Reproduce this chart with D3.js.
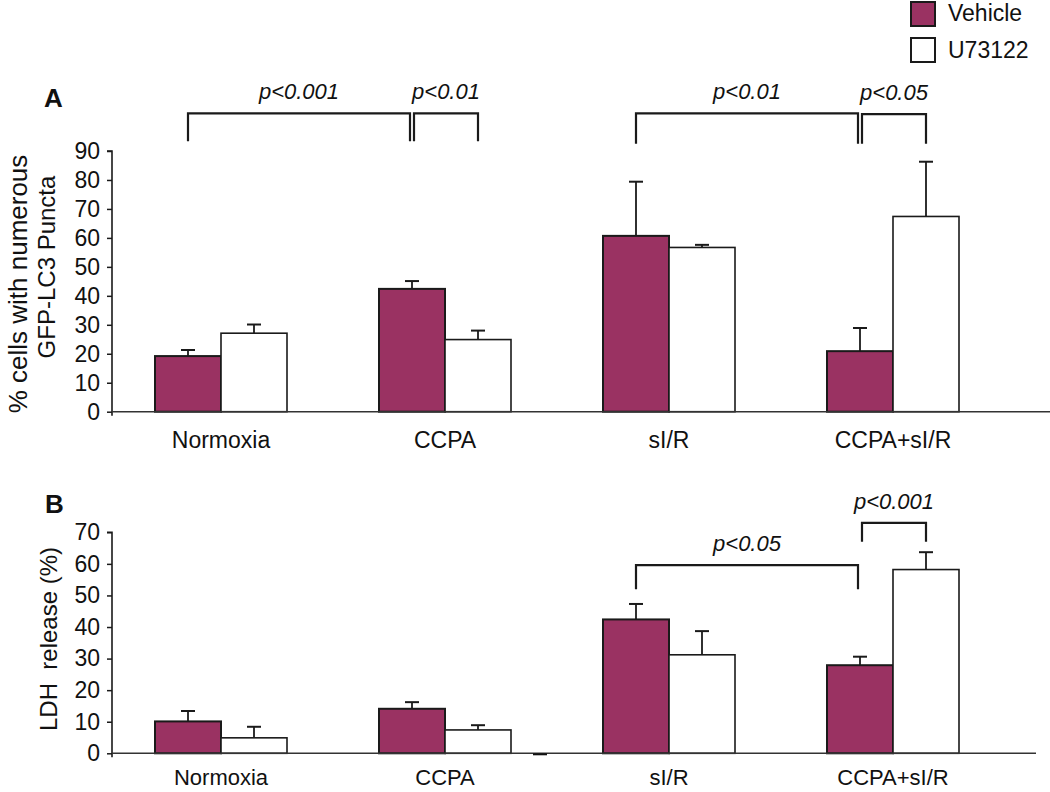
<!DOCTYPE html>
<html>
<head>
<meta charset="utf-8">
<script src="https://cdn.jsdelivr.net/npm/d3@7"></script>
<style>
  html, body { margin: 0; padding: 0; background: #fff; }
  svg { display: block; font-family: Arial, "Liberation Sans", Helvetica, sans-serif; }
</style>
</head>
<body>
<svg id="chart" width="1050" height="792"></svg>
<script>
// ---------- data ----------
const categories = ["Normoxia", "CCPA", "sI/R", "CCPA+sI/R"];
const seriesNames = ["Vehicle", "U73122"];

// Panel A: % cells with numerous GFP-LC3 puncta
const aVehicle = [19.2, 42.4, 60.7, 20.9];
const aVehicleErr = [2.1, 2.7, 18.7, 8.0];
const aU73122 = [27.1, 24.9, 56.7, 67.4];
const aU73122Err = [3.0, 3.1, 0.9, 18.9];
const aTicks = [0, 10, 20, 30, 40, 50, 60, 70, 80, 90];

// Panel B: LDH release (%)
const bVehicle = [10.1, 14.1, 42.4, 27.9];
const bVehicleErr = [3.3, 2.1, 4.9, 2.7];
const bU73122 = [4.9, 7.4, 31.2, 58.2];
const bU73122Err = [3.5, 1.5, 7.5, 5.5];
const bTicks = [0, 10, 20, 30, 40, 50, 60, 70];

// significance brackets: [fromCategory, fromSeries, toCategory, toSeries, topValue, legValue, label]
const aBrackets = [
  ["Normoxia", "Vehicle", "CCPA", "Vehicle", 103, 93.4, "p<0.001"],
  ["CCPA", "Vehicle", "CCPA", "U73122", 103, 93.4, "p<0.01"],
  ["sI/R", "Vehicle", "CCPA+sI/R", "Vehicle", 103, 92.5, "p<0.01"],
  ["CCPA+sI/R", "Vehicle", "CCPA+sI/R", "U73122", 102.7, 92.5, "p<0.05"]
];
const bBrackets = [
  ["sI/R", "Vehicle", "CCPA+sI/R", "Vehicle", 59.6, 52, "p<0.05"],
  ["CCPA+sI/R", "Vehicle", "CCPA+sI/R", "U73122", 73, 67, "p<0.001"]
];

// ---------- styling ----------
const vehicleColor = "#9a3262";
const ink = "#1a1a1a";
const colors = { "Vehicle": vehicleColor, "U73122": "#ffffff" };

const svg = d3.select("#chart");

// shared x scales
const x0 = d3.scaleBand().domain(categories).range([109, 1005]).paddingInner(0).paddingOuter(0);
const x1 = d3.scaleBand().domain(seriesNames).range([0, 132]).padding(0);
const barX = (cat, ser) => x0(cat) + x0.bandwidth() / 2 - 66 + x1(ser);
const barCenter = (cat, ser) => barX(cat, ser) + x1.bandwidth() / 2;

function drawPanel(opts) {
  const g = svg.append("g");
  const y = d3.scaleLinear().domain(opts.domain).range([opts.y0, opts.y1]);

  // y axis
  const yAxis = d3.axisLeft(y).tickValues(opts.ticks).tickSize(5).tickPadding(7).tickFormat(d3.format("d"));
  const ya = g.append("g").attr("transform", `translate(${opts.axisX},0)`).call(yAxis);
  ya.select(".domain").attr("stroke", ink).attr("stroke-width", 1.6).attr("d", `M-5,${y(opts.domain[1])}H0V${y(0) + 4}`);
  ya.selectAll(".tick line").attr("stroke", ink).attr("stroke-width", 1.5);
  ya.selectAll(".tick text").attr("font-size", 23).attr("fill", "#111").attr("font-family", "Arial, 'Liberation Sans', sans-serif");

  // bars
  const rows = [];
  categories.forEach((c, i) => {
    rows.push({ cat: c, ser: "Vehicle", v: opts.vehicle[i], e: opts.vehicleErr[i] });
    rows.push({ cat: c, ser: "U73122", v: opts.u[i], e: opts.uErr[i] });
  });

  // error bars (vertical line from bar top up, with cap)
  const eb = g.append("g").attr("stroke", ink).attr("stroke-width", 1.8).attr("fill", "none");
  rows.forEach(r => {
    const cx = barCenter(r.cat, r.ser);
    eb.append("line").attr("x1", cx).attr("x2", cx).attr("y1", y(r.v)).attr("y2", y(r.v + r.e));
    eb.append("line").attr("x1", cx - 7).attr("x2", cx + 7).attr("y1", y(r.v + r.e)).attr("y2", y(r.v + r.e)).attr("stroke-width", 2);
  });

  g.append("g").selectAll("rect").data(rows).join("rect")
    .attr("x", d => barX(d.cat, d.ser))
    .attr("y", d => y(d.v))
    .attr("width", x1.bandwidth())
    .attr("height", d => y(0) - y(d.v))
    .attr("fill", d => colors[d.ser])
    .attr("stroke", ink)
    .attr("stroke-width", d => d.ser === "Vehicle" ? 2 : 1.6);

  // x axis (category labels)
  const xAxis = d3.axisBottom(x0).tickSize(0).tickPadding(opts.labelPad);
  const xa = g.append("g").attr("transform", `translate(0,${y(0)})`).call(xAxis);
  xa.select(".domain").remove();
  xa.selectAll(".tick text").attr("font-size", opts.labelSize).attr("fill", "#111").attr("font-family", "Arial, 'Liberation Sans', sans-serif");

  // baseline
  g.append("line").attr("x1", opts.axisX).attr("x2", opts.baseEnd)
    .attr("y1", y(0)).attr("y2", y(0)).attr("stroke", "#333").attr("stroke-width", 1.6);

  // brackets
  const br = g.append("g");
  opts.brackets.forEach((b, i) => {
    let xa0 = barCenter(b[0], b[1]);
    let xb0 = barCenter(b[2], b[3]);
    opts.brackets.forEach((o, j) => {
      if (j === i) return;
      if (o[0] === b[2] && o[1] === b[3]) xb0 -= 2;
      if (o[2] === b[0] && o[3] === b[1]) xa0 += 2;
    });
    const yt = y(b[4]), yl = y(b[5]);
    br.append("path")
      .attr("d", `M${xa0},${yl}V${yt}H${xb0}V${yl}`)
      .attr("fill", "none").attr("stroke", ink).attr("stroke-width", 2.2);
    br.append("text")
      .attr("x", (xa0 + xb0) / 2).attr("y", yt - 14)
      .attr("text-anchor", "middle")
      .attr("font-size", 22).attr("font-style", "italic").attr("fill", "#111")
      .text(b[6]);
  });

  // panel letter
  g.append("text").attr("x", opts.letterX).attr("y", opts.letterY)
    .attr("font-size", 26).attr("font-weight", "bold").attr("fill", "#111").text(opts.letter);

  // y title
  opts.titles.forEach(t => {
    g.append("text")
      .attr("transform", `translate(${t.x},${t.y}) rotate(-90)`)
      .attr("text-anchor", "middle")
      .attr("font-size", t.size).attr("fill", "#111")
      .attr("xml:space", "preserve")
      .text(t.text);
  });
  return { g, y };
}

// Panel A
drawPanel({
  domain: [0, 90], ticks: aTicks, y0: 411.7, y1: 151, axisX: 112,
  vehicle: aVehicle, vehicleErr: aVehicleErr, u: aU73122, uErr: aU73122Err,
  brackets: aBrackets, labelPad: 20, labelSize: 23, baseEnd: 1050,
  letter: "A", letterX: 44, letterY: 107,
  titles: [
    { text: "% cells with numerous", x: 27, y: 284, size: 26 },
    { text: "GFP-LC3 Puncta", x: 55, y: 267, size: 24 }
  ]
});

// Panel B
const pb = drawPanel({
  domain: [0, 70], ticks: bTicks, y0: 753.3, y1: 532.3, axisX: 112,
  vehicle: bVehicle, vehicleErr: bVehicleErr, u: bU73122, uErr: bU73122Err,
  brackets: bBrackets, labelPad: 16, labelSize: 22, baseEnd: 1036,
  letter: "B", letterX: 45, letterY: 513,
  titles: [
    { text: "LDH  release (%)", x: 57, y: 639, size: 24 }
  ]
});
// small dash on panel B baseline (as in the original)
pb.g.append("line").attr("x1", 533).attr("x2", 547)
  .attr("y1", pb.y(0) + 1).attr("y2", pb.y(0) + 1).attr("stroke", "#111").attr("stroke-width", 2);

// legend
const legend = svg.append("g");
seriesNames.forEach((s, i) => {
  legend.append("rect").attr("x", 911).attr("y", 2 + i * 36).attr("width", 24).attr("height", 24)
    .attr("fill", colors[s]).attr("stroke", ink).attr("stroke-width", 2);
  legend.append("text").attr("x", 948).attr("y", 21 + i * 37)
    .attr("font-size", 23).attr("fill", "#111").text(s);
});
</script>
</body>
</html>
